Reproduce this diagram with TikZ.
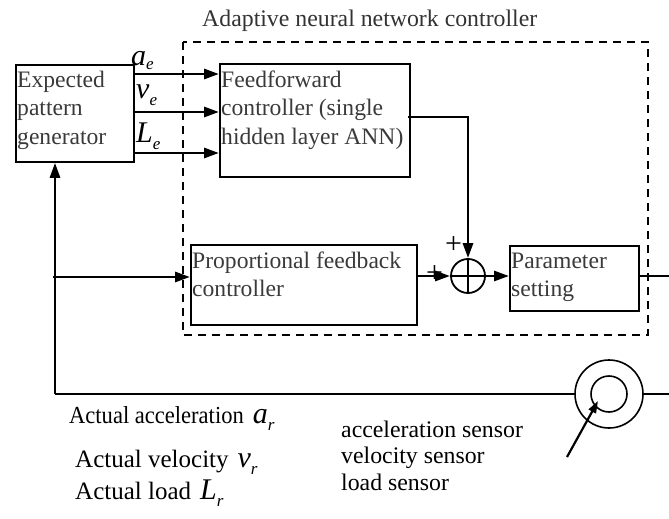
\documentclass[tikz,border=0pt]{standalone}
\usepackage{fontspec}
\setmainfont{Liberation Serif}
\usetikzlibrary{arrows.meta}
\definecolor{txtgray}{HTML}{3A3A3A}
\newcommand{\btext}[1]{\fontsize{23.6}{28.5}\selectfont\begin{tabular}[t]{@{}l@{}}#1\end{tabular}}
\newcommand{\mv}[3][7pt]{{\fontsize{30}{30}\selectfont\itshape #2}\raisebox{-#1}{\fontsize{17}{17}\selectfont\itshape #3}}
\begin{document}
\begin{tikzpicture}[x=1pt,y=-1pt,
  box/.style={draw, line width=1.8pt, inner sep=0pt, anchor=north west},
  btxt/.style={inner sep=0pt, anchor=base west, text=txtgray},
  plain/.style={inner sep=0pt, anchor=base west, text=black},
  arr/.style={line width=2.8pt, -{Triangle[length=15pt,width=10pt]}},
  thinline/.style={line width=1.8pt},
  dashbox/.style={draw, line width=1.8pt, dash pattern=on 8pt off 6pt}]
\useasboundingbox (0,0) rectangle (669,519);

% title and dashed region
\node[btxt, text=black!80] (title) at (202,27) {\fontsize{23.8}{28}\selectfont Adaptive neural network controller};
\draw[dashbox] (183,42) rectangle (648,335);

% boxes
\node[box, minimum width=118pt, minimum height=97pt] (gen) at (15,64) {};
\node[btxt] (gent) at (17,87) {\btext{Expected\\pattern\\generator}};
\node[box, minimum width=190pt, minimum height=113pt] (ff) at (219,63) {};
\node[btxt] (fft) at (221,87) {\btext{Feedforward\\controller (single\\hidden layer ANN)}};
\node[box, minimum width=226pt, minimum height=80pt] (prop) at (190,244) {};
\node[btxt] (propt) at (192,268) {\btext{Proportional feedback\\controller}};
\node[box, minimum width=129pt, minimum height=65pt] (param) at (509,245) {};
\node[btxt] (paramt) at (511,268) {\btext{Parameter\\setting}};

% summing junction
\node[circle, draw, line width=1.8pt, minimum size=34pt, inner sep=0pt] (sum) at (468,276) {};
\draw[line width=1.6pt] (sum.north) -- (sum.south) (sum.west) -- (sum.east);
\node[plain, font=\fontsize{30}{30}\selectfont] (p1) at (445,253) {+};
\node[plain, font=\fontsize{30}{30}\selectfont] (p2) at (426,282) {+};

% inputs from generator
\draw[arr] ([yshift=-10pt]gen.north east) coordinate (s1) -- (s1 -| ff.west);
\draw[arr] ([yshift=-48pt]gen.north east) coordinate (s2) -- (s2 -| ff.west);
\draw[arr] ([yshift=-89pt]gen.north east) coordinate (s3) -- (s3 -| ff.west);
\node[plain] (ae) at (131,66) {\mv[4pt]{a}{e}};
\node[plain] (ve) at (136,98) {\mv{v}{e}};
\node[plain] (le) at (136,142) {\mv{L}{e}};

% feedforward to sum
\draw[thinline] ([xshift=-3pt,yshift=-54pt]ff.north east) coordinate (f1) -| ([yshift=14pt]sum.north) coordinate (f2);
\draw[arr] (f2) -- (sum.north);
\draw[arr] (prop.east |- sum.west) -- (sum.west);
\draw[arr] (sum.east) -- (sum.east -| param.west);
\coordinate (outR) at (669,276);
\draw[thinline] (param.east |- outR) -- (outR);

% sensor
\node[circle, draw, line width=1.6pt, minimum size=68pt, inner sep=0pt] (sens) at (609,394) {};
\node[circle, draw, line width=1.6pt, minimum size=36pt, inner sep=0pt] (sensin) at (609,394) {};
\coordinate (outS) at (669,394);
\draw[thinline] (sens.east) -- (outS);
\coordinate (sa) at (567,457);
\coordinate (st) at (598,401);
\draw[line width=2.2pt, -{Triangle[length=12pt,width=8pt]}] (sa) -- (st);

% feedback loop
\coordinate (bl) at (55,394);
\draw[line width=2.2pt] (bl) -- (sens.west);
\draw[arr] (bl) -- (bl |- gen.south);
\coordinate (br) at (53,277);
\draw[arr] (br) -- (br -| prop.west);

% bottom labels
\node[plain] (la) at (69,423) {\scalebox{0.92}[1]{\fontsize{24.5}{26}\selectfont Actual acceleration}\hspace{9pt}\mv{a}{r}};
\node[plain] (lv) at (75,467) {\fontsize{25}{26}\selectfont Actual velocity\hspace{9pt}\mv{v}{r}};
\node[plain] (ll) at (75,499) {\fontsize{25}{26}\selectfont Actual load\hspace{9pt}\mv{L}{r}};
\node[plain] (sensl) at (341,437) {\fontsize{23.8}{26.5}\selectfont\begin{tabular}[t]{@{}l@{}}acceleration sensor\\velocity sensor\\load sensor\end{tabular}};
\end{tikzpicture}
\end{document}
